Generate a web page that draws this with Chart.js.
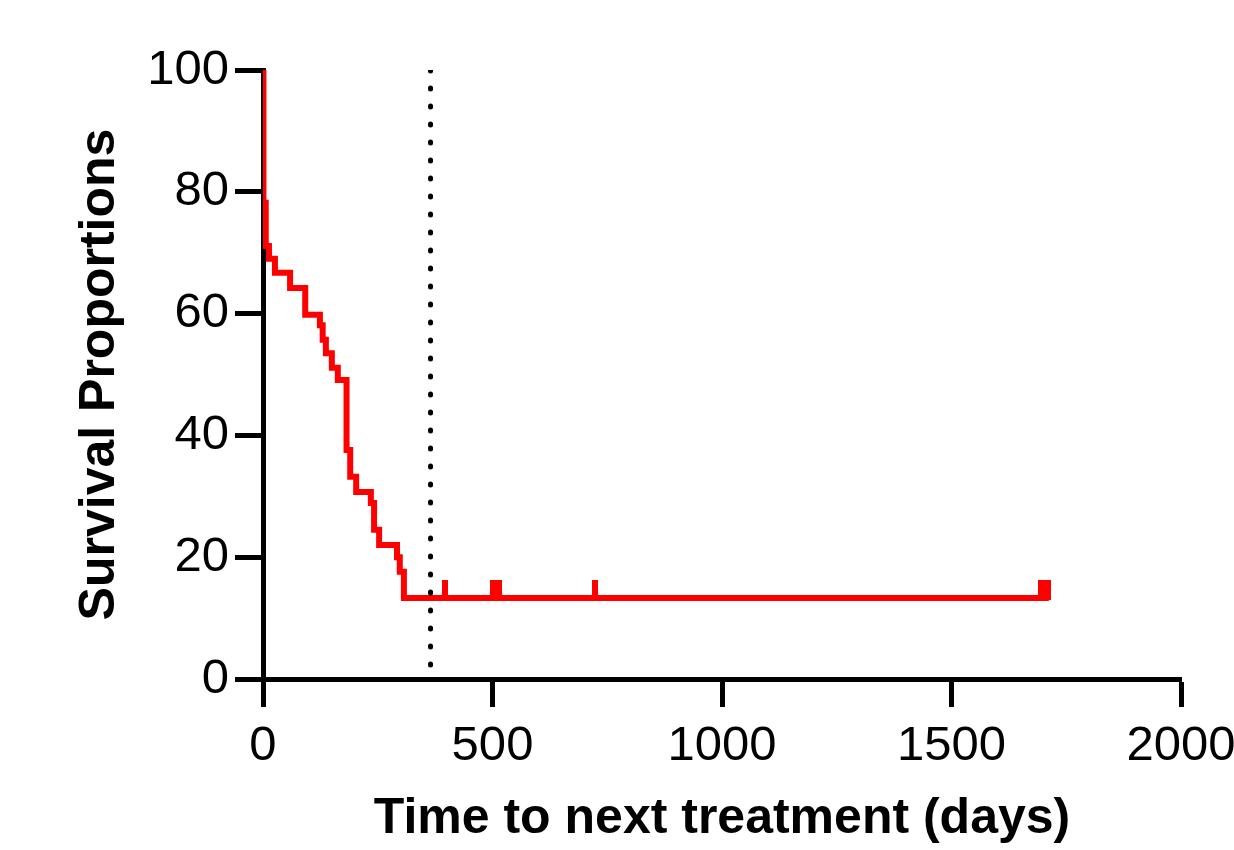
<!DOCTYPE html>
<html>
<head>
<meta charset="utf-8">
<script src="https://cdn.jsdelivr.net/npm/chart.js@4.4.1/dist/chart.umd.min.js"></script>
<style>
  html, body { margin: 0; padding: 0; background: #fff; }
  #km { display: block; }
</style>
</head>
<body>
<canvas id="km" width="1234" height="850"></canvas>
<script>
// Kaplan-Meier curve (days, percent surviving)
const kmTimes    = [0, 1, 6, 13, 26, 59, 92, 124, 130, 137, 150, 163, 182, 190, 203, 235, 242, 253, 292, 298, 307, 1712];
const kmSurvival = [100, 78.2, 71.1, 69.0, 66.7, 64.2, 59.8, 58.1, 55.7, 53.5, 51.1, 49.1, 37.6, 33.2, 30.7, 28.9, 24.5, 22.0, 20.0, 17.6, 13.3, 13.3];

// censored observations (tick marks)
const censorTimes = [397, 501, 514, 723, 1694, 1702, 1710];
const censorLevel = 13.3;

// one year reference line (drawn top to bottom)
const refDay = 365;
const refRange = [100, 0];

const xTicks = [0, 500, 1000, 1500, 2000];
const yTicks = [0, 20, 40, 60, 80, 100];

const RED = '#ff0000';
const FONT = 'Arial, "Liberation Sans", sans-serif';

// tick mark sprite: red only in the upper half so it points up from the curve
function censorMark() {
  const c = document.createElement('canvas');
  c.width = 6;
  c.height = 36;
  const g = c.getContext('2d');
  g.fillStyle = RED;
  g.fillRect(0, 0, 6, 20);
  return c;
}
const mark = censorMark();

const curve = kmTimes.map((t, i) => ({ x: t, y: kmSurvival[i] }));
const censored = censorTimes.map(t => ({ x: t, y: censorLevel }));
const refLine = refRange.map(v => ({ x: refDay, y: v }));

new Chart(document.getElementById('km'), {
  type: 'scatter',
  data: {
    datasets: [
      {
        label: 'Reference',
        data: refLine,
        showLine: true,
        borderColor: '#000',
        borderWidth: 5,
        borderDash: [1, 17],
        borderCapStyle: 'round',
        pointRadius: 0
      },
      {
        label: 'Survival',
        data: curve,
        showLine: true,
        stepped: 'before',
        borderColor: RED,
        borderWidth: 6,
        pointRadius: 0
      },
      {
        label: 'Censored',
        data: censored,
        pointStyle: mark,
        pointRadius: 5
      }
    ]
  },
  options: {
    responsive: false,
    animation: false,
    layout: { padding: { top: 70, right: 53, left: 0, bottom: 0 } },
    plugins: {
      legend: { display: false },
      tooltip: { enabled: false }
    },
    scales: {
      x: {
        type: 'linear',
        min: 0,
        max: 2000,
        afterFit: s => { s.height = 171; s.paddingLeft = 0; s.paddingRight = 0; },
        afterBuildTicks: s => { s.ticks = xTicks.map(v => ({ value: v })); },
        border: { display: true, color: '#000', width: 5 },
        grid: { drawOnChartArea: false, drawTicks: true, tickLength: 28, tickWidth: 5, tickColor: '#000' },
        ticks: {
          color: '#000', padding: 10, maxRotation: 0,
          font: { family: FONT, size: 49 },
          callback: v => String(v)
        },
        title: {
          display: true,
          text: 'Time to next treatment (days)',
          color: '#000',
          font: { family: FONT, size: 50, weight: 'bold', lineHeight: 1.2 },
          padding: { top: 0, bottom: 1 }
        }
      },
      y: {
        min: 0,
        max: 100,
        afterFit: s => { s.width = 263; s.paddingTop = 0; s.paddingBottom = 0; },
        afterBuildTicks: s => { s.ticks = yTicks.map(v => ({ value: v })); },
        border: { display: true, color: '#000', width: 5 },
        grid: { drawOnChartArea: false, drawTicks: true, tickLength: 28, tickWidth: 5, tickColor: '#000' },
        ticks: {
          color: '#000', padding: 6,
          font: { family: FONT, size: 49 },
          callback: v => String(v)
        },
        title: {
          display: true,
          text: 'Survival Proportions',
          color: '#000',
          font: { family: FONT, size: 50, weight: 'bold', lineHeight: 1.2 },
          padding: { top: 70, bottom: 0 }
        }
      }
    }
  }
});
</script>
</body>
</html>
